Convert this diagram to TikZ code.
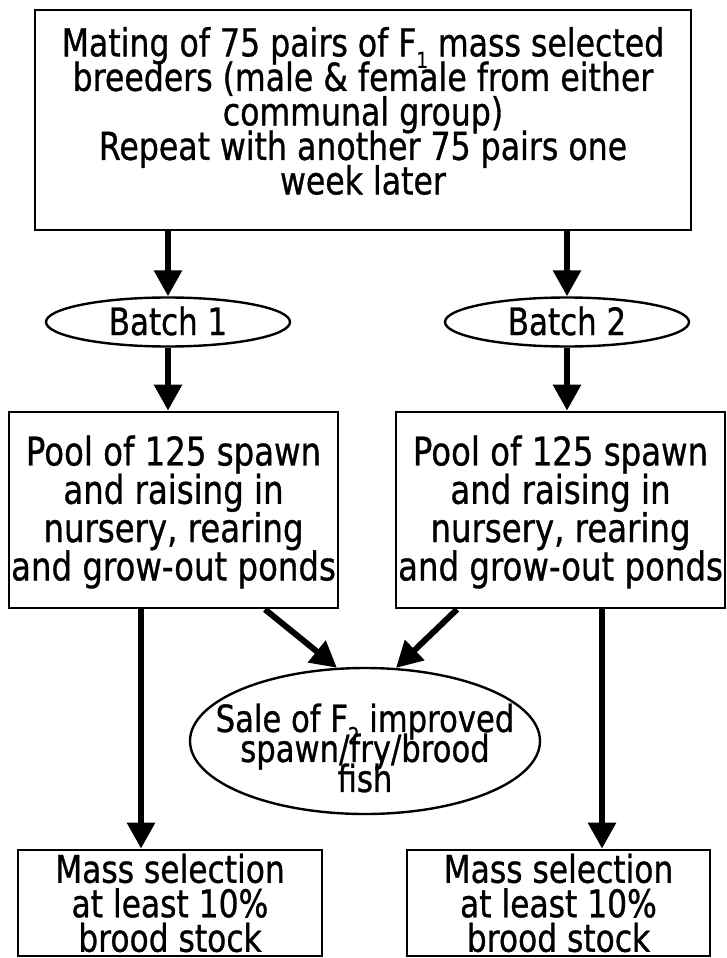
\documentclass[tikz,border=0pt]{standalone}
\usepackage{fontspec}
\setmainfont[FakeStretch=0.82,FakeBold=0.8]{DejaVu Sans}
\usetikzlibrary{arrows.meta,shapes.geometric}
\newcommand{\subone}[1]{\raisebox{-0.3em}{\fontsize{22}{22}\selectfont #1}}
\newcommand{\fs}[2]{\fontsize{#1}{#2}\selectfont\lineskiplimit=-100pt\relax}
\begin{document}
\begin{tikzpicture}[x=1pt,y=-1pt,
  box/.style={draw=black, line width=2.8pt, rectangle, inner sep=0pt, align=center},
  oval/.style={draw=black, line width=2.4pt, ellipse, inner sep=0pt},
  txt/.style={inner sep=0pt, align=center},
  arr/.style={line width=6pt, -{Triangle[length=26pt,width=27pt]}}]
\useasboundingbox (0,0) rectangle (727,958);
\fill[white] (0,0) rectangle (727,958);

% top box
\node[box, minimum width=656pt, minimum height=220pt] (top) at (363,120) {};
\node[txt, font=\fs{38.5}{34.5}] (toptxt) at (363,111)
 {Mating of 75 pairs of F\subone{1} mass selected\\breeders (male \& female from either\\communal group)\\Repeat with another 75 pairs one\\week later};

% batches
\node[oval, minimum width=244pt, minimum height=49pt] (b1) at (168,322) {};
\node[txt, font=\fs{37.7}{36}] (b1t) at (168,321) {Batch 1};
\node[oval, minimum width=244pt, minimum height=49pt] (b2) at (567,322) {};
\node[txt, font=\fs{37.7}{36}] (b2t) at (567,321) {Batch 2};

% pools
\node[box, minimum width=329pt, minimum height=196pt] (p1) at (173.5,510) {};
\node[txt, font=\fs{39.5}{38.3}] (p1t) at (173.5,512) {Pool of 125 spawn\\and raising in\\nursery, rearing\\and grow-out ponds};
\node[box, minimum width=329pt, minimum height=196pt] (p2) at (560.5,510) {};
\node[txt, font=\fs{39.5}{38.3}] (p2t) at (560.5,512) {Pool of 125 spawn\\and raising in\\nursery, rearing\\and grow-out ponds};

% sale ellipse
\node[oval, minimum width=350pt, minimum height=146pt] (sale) at (365,741) {};
\node[txt, font=\fs{37.4}{30}] (salet) at (365,748) {Sale of F\subone{2} improved\\spawn/fry/brood\\fish};

% bottom boxes
\node[box, minimum width=304pt, minimum height=106pt] (m1) at (170,903) {};
\node[txt, font=\fs{38.2}{34.5}] (m1t) at (170,903) {Mass selection\\at least 10\%\\brood stock};
\node[box, minimum width=303pt, minimum height=106pt] (m2) at (558.5,903) {};
\node[txt, font=\fs{38.2}{34.5}] (m2t) at (558.5,903) {Mass selection\\at least 10\%\\brood stock};

% connectors
\draw[arr] (b1.north |- top.south) -- (b1.north);
\draw[arr] (b2.north |- top.south) -- (b2.north);
\draw[arr] (b1.south) -- (b1.south |- p1.north);
\draw[arr] (b2.south) -- (b2.south |- p2.north);
\draw[arr] ([xshift=-32.5pt]p1.south) -- ([xshift=-29pt]m1.north);
\draw[arr] ([xshift=41.5pt]p2.south) -- ([xshift=43.5pt]m2.north);
\draw[arr] ([xshift=91.5pt]p1.south) -- (sale.111);
\draw[arr] ([xshift=-103.5pt]p2.south) -- (sale.67);
\end{tikzpicture}
\end{document}
